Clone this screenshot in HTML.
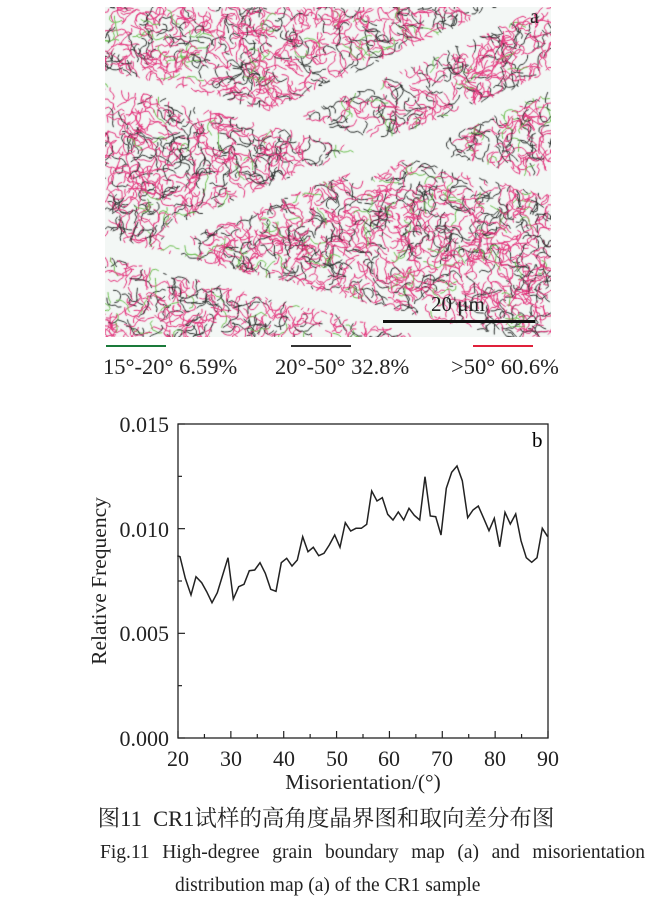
<!DOCTYPE html>
<html><head><meta charset="utf-8"><style>
html,body{margin:0;padding:0;background:#fff;width:654px;height:912px;overflow:hidden;position:relative;font-family:"Liberation Serif","Noto Serif CJK SC",serif;color:#222}
.t{position:absolute;white-space:nowrap}
</style></head><body>
<canvas id="m" width="446" height="330" style="position:absolute;left:105px;top:7px"></canvas>
<div class="t" style="left:530px;top:6px;font-size:20px">a</div>
<div style="position:absolute;left:383px;top:320px;width:152px;height:3px;background:#111"></div>
<div class="t" style="left:431px;top:292px;font-size:21px">20 μm</div>
<div style="position:absolute;left:106px;top:345px;width:60px;height:2px;background:#1a7a3a"></div>
<div style="position:absolute;left:291px;top:345px;width:60px;height:2px;background:#333"></div>
<div style="position:absolute;left:473px;top:345px;width:60px;height:2px;background:#e0203a"></div>
<div class="t" style="left:103px;top:354px;font-size:22.5px">15°-20° 6.59%</div>
<div class="t" style="left:275px;top:354px;font-size:22.5px">20°-50° 32.8%</div>
<div class="t" style="left:451px;top:354px;font-size:22.5px">&gt;50° 60.6%</div>
<svg id="c" width="654" height="912" style="position:absolute;left:0;top:0" xmlns="http://www.w3.org/2000/svg">
<rect x="178" y="424" width="370" height="314" fill="none" stroke="#222" stroke-width="1.3"/>
<g stroke="#222" stroke-width="1.2" id="ticks"></g>
<polyline id="pl" fill="none" stroke="#222" stroke-width="1.5"/>
<text x="532" y="447" font-size="21" font-family="Liberation Serif">b</text>
<g font-size="22" font-family="Liberation Serif" fill="#222" text-anchor="end">
<text x="169" y="432">0.015</text><text x="169" y="537">0.010</text><text x="169" y="641">0.005</text><text x="169" y="746">0.000</text></g>
<g font-size="22" font-family="Liberation Serif" fill="#222" text-anchor="middle">
<text x="178" y="766">20</text><text x="231" y="766">30</text><text x="284" y="766">40</text><text x="337" y="766">50</text><text x="389" y="766">60</text><text x="442" y="766">70</text><text x="495" y="766">80</text><text x="548" y="766">90</text>
<text x="363" y="789" font-size="21.5">Misorientation/(°)</text>
<text transform="translate(106,581) rotate(-90)" font-size="21.5">Relative Frequency</text></g>
</svg>
<div class="t" style="left:0;width:652px;text-align:center;top:801px;font-size:22.5px">图11&nbsp; CR1试样的高角度晶界图和取向差分布图</div>
<div class="t" style="left:100px;width:545px;top:842px;font-size:19.5px;text-align:justify;text-align-last:justify;white-space:normal;height:25px;overflow:hidden">Fig.11 High-degree grain boundary map (a) and misorientation</div>
<div class="t" style="left:175px;top:875px;font-size:19.5px">distribution map (a) of the CR1 sample</div>
<script>
var z=[[22,437],[30,440],[46,505],[63,555],[78,500],[95,518],[110,545],[126,578],[142,548],[158,495],[174,443],[190,567],[206,530],[222,523],[238,482],[254,480],[270,458],[286,490],[302,538],[318,544],[334,458],[350,445],[366,468],[382,450],[398,380],[414,425],[430,412],[446,437],[462,430],[478,405],[494,375],[510,412],[526,338],[542,363],[558,355],[574,355],[590,343],[605,243],[621,273],[637,263],[653,313],[669,330],[685,306],[701,330],[717,295],[733,316],[749,330],[765,200],[781,318],[797,320],[813,375],[829,235],[845,187],[861,168],[877,212],[893,323],[909,300],[925,288],[941,325],[957,362],[973,325],[989,410],[1005,307],[1021,342],[1037,312],[1053,392],[1069,443],[1085,457],[1101,443],[1117,355],[1133,380]];
document.getElementById('pl').setAttribute('points',z.map(function(p){return (p[0]/3+170).toFixed(1)+','+(p[1]/3+410).toFixed(1)}).join(' '));
var t='';for(var i=0;i<=14;i++){var x=178+i*370/14;t+='<line x1="'+x+'" y1="738" x2="'+x+'" y2="'+(i%2?734:731)+'"/>';}
for(var j=0;j<=6;j++){var y=738-j*314/6;t+='<line x1="178" y1="'+y+'" x2="'+(j%2?182:185)+'" y2="'+y+'"/>';}
document.getElementById('ticks').innerHTML=t;
var s=12345;function r(){s=(s*16807)%2147483647;return s/2147483647;}
var c=document.getElementById('m').getContext('2d');c.fillStyle='#f3f7f5';c.fillRect(0,0,446,330);
function inBand(x,y){var bands=[[150,120,0.45,9],[60,230,0.4,8],[0,240,-0.25,9],[250,170,0.5,7],[0,70,-0.25,6]];
for(var k=0;k<bands.length;k++){var b=bands[k];var yy=b[1]-(x-b[0])*b[2];if(x>b[0]&&Math.abs(y-yy)<b[3])return true;}return false;}
c.lineWidth=1;
for(var n=0;n<3200;n++){var cx=r()*446,cy=r()*330;if(inBand(cx,cy))continue;
var q=r();c.strokeStyle=q<0.6?'#e4307a':(q<0.93?'#2a2e2c':'#6cc050');c.beginPath();
var px=cx,py=cy;c.moveTo(px,py);var ang=r()*6.283;
for(var a=0;a<6;a++){ang+= (r()-0.5)*2.2;px+=Math.cos(ang)*3.5;py+=Math.sin(ang)*3.5;if(inBand(px,py))break;c.lineTo(px,py);}
c.stroke();}
</script>
</body></html>
